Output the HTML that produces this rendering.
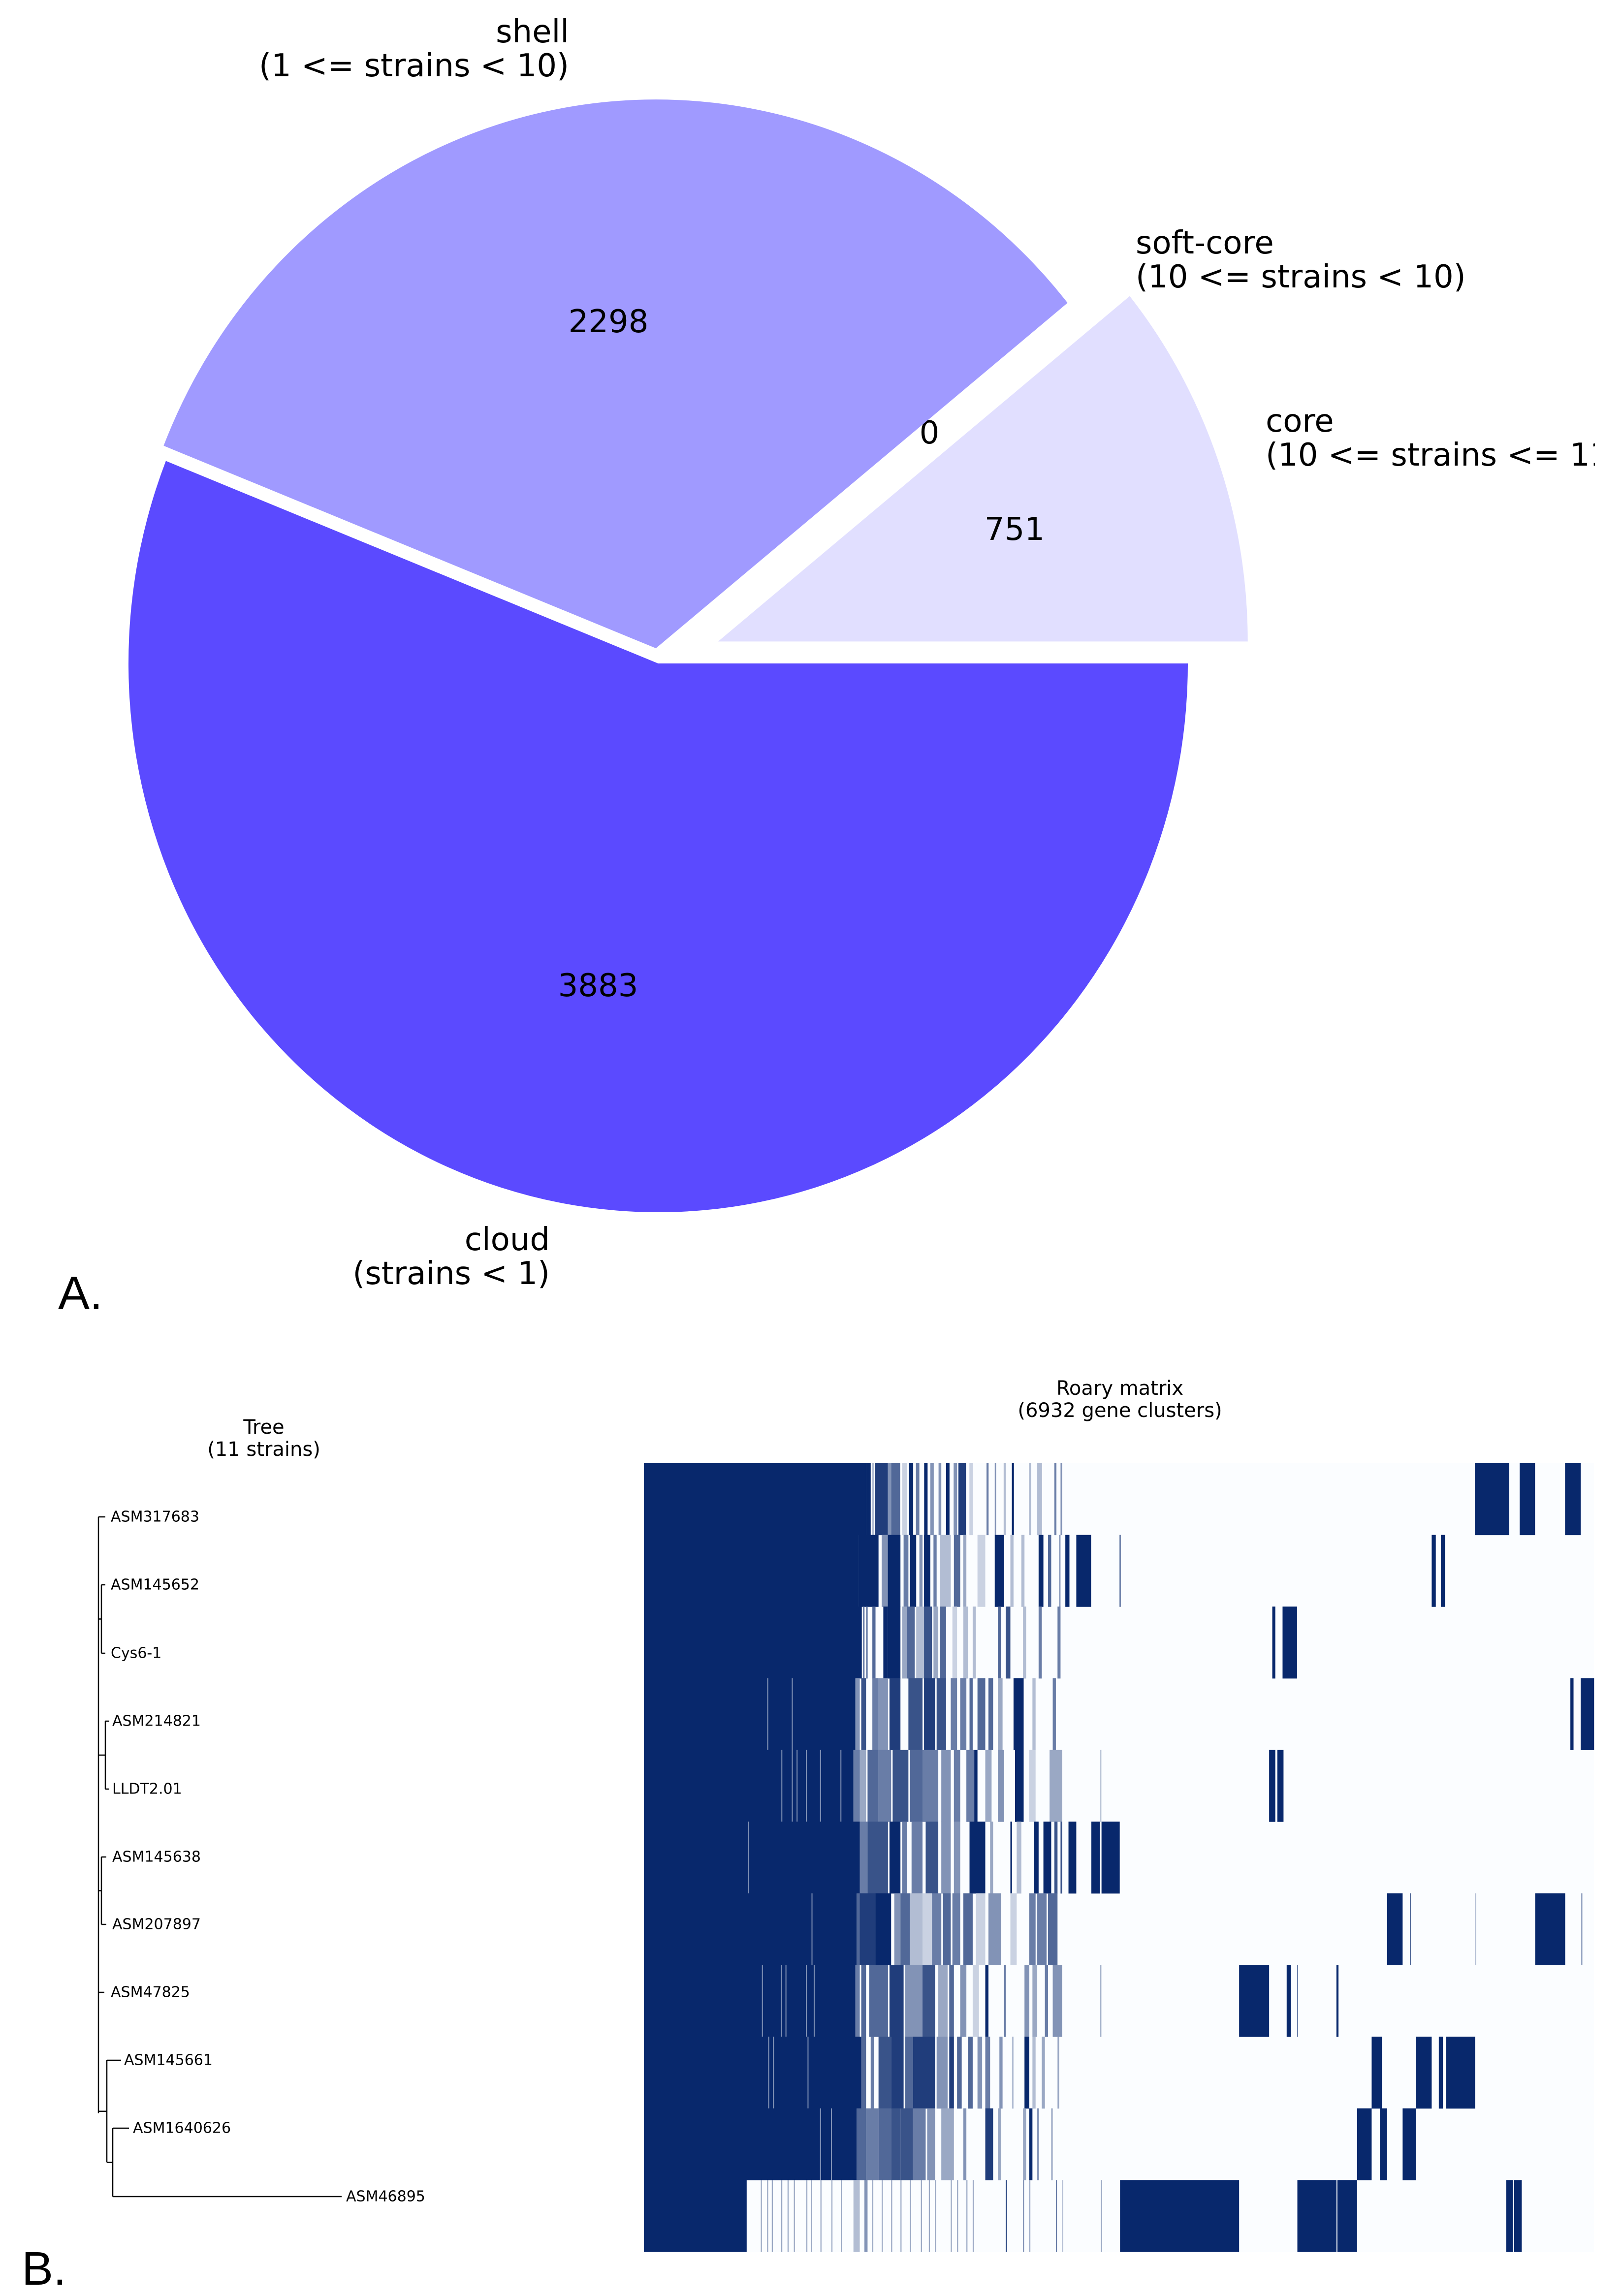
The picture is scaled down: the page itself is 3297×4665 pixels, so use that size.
<!DOCTYPE html>
<html><head><meta charset="utf-8"><title>Pangenome pie chart and Roary gene matrix</title>
<style>
html,body{margin:0;padding:0;background:#fff;}
svg{display:block;}
.lbl{font-family:"DejaVu Sans","Liberation Sans",sans-serif;font-size:64px;fill:#000;}
.small{font-family:"DejaVu Sans","Liberation Sans",sans-serif;font-size:30px;fill:#000;}
.title{font-family:"DejaVu Sans","Liberation Sans",sans-serif;font-size:40px;fill:#000;}
.panel{font-family:"Liberation Sans",sans-serif;font-size:96px;fill:#000;}
</style></head>
<body>
<svg id="fig" width="3297" height="4665" viewBox="0 0 3297 4665" xmlns="http://www.w3.org/2000/svg">
<defs><clipPath id="clipA"><rect x="0" y="0" width="3240" height="2700"/></clipPath></defs>
<rect width="3297" height="4665" fill="#ffffff"/>
<g id="pie" clip-path="url(#clipA)"></g>
<text class="panel" x="118" y="2660">A.</text>
<text class="panel" x="44" y="4642">B.</text>
<g id="tree">
<text class="title" x="536" y="2900" text-anchor="middle" dominant-baseline="central">Tree</text>
<text class="title" x="536" y="2945" text-anchor="middle" dominant-baseline="central">(11 strains)</text>
</g>
<g id="matrix">
<text class="title" x="2275" y="2821" text-anchor="middle" dominant-baseline="central">Roary matrix</text>
<text class="title" x="2275" y="2866" text-anchor="middle" dominant-baseline="central">(6932 gene clusters)</text>
</g>
</svg>
<script>
// ---------- PIE DATA ----------
const pieCategories = ["core","soft-core","shell","cloud"];
const pieValues = [751, 0, 2298, 3883];
const pieLabelLine1 = ["core","soft-core","shell","cloud"];
const pieLabelLine2 = ["(10 <= strains <= 11)","(10 <= strains < 10)","(1 <= strains < 10)","(strains < 1)"];
const pieExplode = [0.12, 0.12, 0.028, 0];
const pieColors = ["#e1dfff","#c8c4ff","#a09aff","#5b4aff"];

// ---------- MATRIX DATA ----------
const strains = ["ASM317683","ASM145652","Cys6-1","ASM214821","LLDT2.01","ASM145638","ASM207897","ASM47825","ASM145661","ASM1640626","ASM46895"];
const totalClusters = 6932;
const coreEnd = [1620,1568,1590,1543,1529,1575,1552,1543,1586,1552,750];
const rowSegments = [
 [[1620,1655,1],[1665,1680,.3],[1685,1780,.9],[1780,1805,.5],[1805,1870,.7],[1885,1920,.2],[1935,1965,1],[1985,2010,.6],[2045,2070,1],[2090,2115,.5],[2150,2170,.5],[2205,2230,1],[2260,2285,.5],[2295,2350,.9],[2375,2400,.2],[2500,2515,.6],[2560,2570,.5],[2625,2640,.3],[2685,2700,1],[2810,2825,.3],[2870,2905,.3],[2995,3010,.6],[3040,3052,.5],[6063,6314,1],[6390,6502,1],[6721,6835,1]],
 [[1568,1712,1],[1735,1780,.5],[1780,1872,1],[1895,1930,.6],[1941,1987,1],[2010,2033,.5],[2044,2090,1],[2113,2136,.6],[2159,2239,.3],[2262,2308,.7],[2330,2353,.4],[2434,2491,.2],[2560,2628,1],[2674,2697,.3],[2754,2777,.3],[2880,2915,1],[2949,2972,.7],[3030,3040,.5],[3075,3105,1],[3155,3263,1],[3470,3480,.6],[5748,5778,1],[5815,5845,1]],
 [[1598,1610,.6],[1621,1633,.6],[1667,1690,.7],[1747,1781,1],[1781,1872,1],[1884,1918,.4],[1918,1976,.7],[1987,2044,.3],[2044,2102,.8],[2113,2148,.4],[2159,2205,.7],[2251,2285,.2],[2331,2365,.3],[2399,2422,.3],[2583,2606,.7],[2640,2674,.8],[2766,2789,.3],[2880,2903,.6],[3018,3040,.6],[4585,4607,1],[4660,4766,1]],
 [[900,906,.5],[1079,1085,.5],[1543,1575,.5],[1586,1621,.8],[1667,1712,.6],[1712,1781,.5],[1792,1872,.9],[1930,2033,.8],[2044,2125,.9],[2136,2205,.8],[2239,2285,.6],[2308,2353,.6],[2376,2399,.7],[2434,2491,.7],[2514,2548,.7],[2583,2617,.4],[2697,2771,1],[2835,2858,.3],[2983,3006,.6],[6760,6783,1],[6835,6933,1]],
 [[1003,1009,.5],[1079,1085,.5],[1114,1120,.5],[1182,1188,.5],[1285,1291,.5],[1434,1440,.5],[1529,1575,.6],[1575,1621,.4],[1632,1712,.7],[1712,1804,.6],[1815,1930,.8],[1941,2033,.7],[2033,2148,.6],[2170,2239,.5],[2262,2308,.6],[2353,2422,.6],[2411,2434,1],[2491,2537,.4],[2583,2628,.5],[2708,2771,1],[2812,2858,.2],[2960,3052,.4],[3330,3338,.3],[4562,4607,1],[4622,4667,1]],
 [[758,764,.5],[1575,1632,.6],[1632,1781,.8],[1792,1872,1],[1884,1918,.6],[1953,2033,.6],[2056,2148,.8],[2170,2239,.5],[2262,2308,.5],[2376,2491,1],[2526,2548,.4],[2674,2686,1],[2720,2754,.3],[2846,2880,1],[2915,2972,1],[2995,3018,.8],[3040,3052,.8],[3098,3155,1],[3265,3327,1],[3339,3472,1]],
 [[1223,1229,.5],[1552,1575,.7],[1575,1690,.9],[1690,1804,1],[1827,1872,.5],[1872,1941,.7],[1941,2033,.3],[2033,2102,.2],[2102,2170,.6],[2182,2239,.7],[2251,2308,.6],[2331,2399,.7],[2422,2491,.2],[2514,2606,.5],[2674,2720,.2],[2812,2858,.6],[2870,2938,.6],[2949,3018,.7],[5423,5536,1],[5589,5596,.7],[6065,6070,.3],[6503,6722,1],[6840,6845,.6]],
 [[861,867,.5],[999,1005,.5],[1033,1039,.5],[1182,1188,.5],[1239,1245,.5],[1543,1575,.6],[1586,1621,.7],[1644,1781,.7],[1792,1895,.9],[1907,2033,.5],[2033,2125,.8],[2148,2216,.4],[2228,2262,.7],[2308,2353,.5],[2399,2445,.2],[2491,2514,1],[2628,2640,.6],[2777,2812,.5],[2835,2870,.4],[2926,2949,.6],[2983,3052,.5],[3330,3338,.4],[4343,4562,1],[4690,4720,1],[4766,4772,.6],[5053,5068,1]],
 [[907,913,.5],[942,948,.5],[1194,1200,.5],[1586,1621,.7],[1655,1678,.6],[1712,1804,.8],[1804,1895,.9],[1907,1964,.7],[1964,2125,.9],[2136,2216,.5],[2228,2262,.9],[2285,2319,.7],[2365,2399,.7],[2434,2468,.5],[2491,2526,.6],[2594,2617,.5],[2686,2697,.3],[2777,2812,1],[2835,2858,.3],[2903,2926,.4],[3018,3030,.4],[5310,5385,1],[5635,5748,1],[5800,5830,1],[5853,6065,1]],
 [[1285,1291,.5],[1365,1371,.5],[1552,1621,.7],[1621,1712,.6],[1712,1804,.7],[1804,1872,.8],[1872,1964,.8],[1964,2056,.6],[2067,2125,.5],[2170,2262,.4],[2331,2353,.5],[2491,2548,.9],[2583,2606,.4],[2766,2789,.4],[2812,2835,1],[2870,2882,.5],[2972,2983,.4],[5204,5310,1],[5370,5423,1],[5536,5635,1]],
 [[853,861,.4],[899,907,.4],[933,941,.4],[1002,1010,.4],[1048,1056,.4],[1094,1102,.4],[1185,1193,.4],[1220,1228,.4],[1288,1296,.4],[1368,1376,.4],[1437,1445,.4],[1529,1575,.3],[1609,1632,.5],[1666,1674,.4],[1735,1743,.4],[1804,1812,.4],[1872,1880,.4],[1941,1949,.4],[2021,2029,.4],[2079,2087,.4],[2124,2132,.4],[2239,2247,.4],[2285,2293,.4],[2353,2361,.4],[2399,2407,.4],[2640,2648,.9],[2766,2774,.5],[2812,2820,.4],[3006,3014,.6],[3052,3060,.3],[3334,3342,.4],[3474,4343,1],[4768,5053,1],[5060,5204,1],[6292,6340,1],[6350,6405,1]]
];

// ---------- TREE DATA ----------
const leafY = [3082,3220,3359,3497,3635,3773,3910,4048,4186,4324,4463];
const leafLabelX = [225,225,225,228,228,228,228,225,252,270,703];

const NS="http://www.w3.org/2000/svg";
function mk(tag, attrs, parent){const e=document.createElementNS(NS,tag);for(const k in attrs)e.setAttribute(k,attrs[k]);parent.appendChild(e);return e;}

// ---------- DRAW PIE ----------
(function(){
 const g=document.getElementById('pie');
 const cx=1337, cy=1348, rx=1076, ry=1115;
 const total=pieValues.reduce((a,b)=>a+b,0);
 const px=(ox,a,fr)=>ox+rx*fr*Math.cos(a);
 const py=(oy,a,fr)=>oy-ry*fr*Math.sin(a);
 let start=0;
 const labelPos=[
  {x:2571,y:856,anchor:"start"},
  {x:2307,y:494,anchor:"start"},
  {x:1156,y:65,anchor:"end"},
  {x:1117,y:2519,anchor:"end"}];
 const valuePos=[[2061,1076],[1888,880],[1236,654],[1215,2003]];
 for(let i=0;i<pieValues.length;i++){
  const sweep=pieValues[i]/total*2*Math.PI;
  const a0=start, a1=start+sweep, mid=(a0+a1)/2;
  const ox=cx+rx*pieExplode[i]*Math.cos(mid), oy=cy-ry*pieExplode[i]*Math.sin(mid);
  if(sweep>0){
   const large=sweep>Math.PI?1:0;
   const d=`M${ox},${oy} L${px(ox,a0,1)},${py(oy,a0,1)} A${rx},${ry} 0 ${large} 0 ${px(ox,a1,1)},${py(oy,a1,1)} Z`;
   const p=mk('path',{d:d,fill:pieColors[i]},g);
   
   
  }
  const vt=mk('text',{x:valuePos[i][0],y:valuePos[i][1],'text-anchor':'middle','dominant-baseline':'central',class:'lbl'},g);
  vt.textContent=String(pieValues[i]);
  
  
  const lp=labelPos[i];
  const t1=mk('text',{x:lp.x,y:lp.y,'text-anchor':lp.anchor,'dominant-baseline':'central',class:'lbl'},g);
  t1.textContent=pieLabelLine1[i];
  
  
  const t2=mk('text',{x:lp.x,y:lp.y+69,'text-anchor':lp.anchor,'dominant-baseline':'central',class:'lbl'},g);
  t2.textContent=pieLabelLine2[i];
  
  
  start=a1;
 }
})();

// ---------- DRAW MATRIX ----------
(function(){
 const g=document.getElementById('matrix');
 const x0=1308, x1=3238, y0=2973, y1=4575;
 const rowH=(y1-y0)/strains.length;
 const xs=c=>x0+(c/totalClusters)*(x1-x0);
 const dark=[8,40,108], light=[251,253,255];
 const col=a=>`rgb(${dark.map((d,k)=>Math.round(light[k]+(d-light[k])*a)).join(',')})`;
 const bg=mk('rect',{x:x0,y:y0,width:x1-x0,height:y1-y0,fill:col(0)},g);
 
 
 for(let r=0;r<strains.length;r++){
  const ry=y0+r*rowH;
  const core=mk('rect',{x:xs(0),y:ry,width:xs(coreEnd[r])-xs(0),height:rowH+0.5,fill:col(1)},g);
  
  
  for(const s of rowSegments[r]){
   const w=Math.max(2,xs(s[1])-xs(s[0]));
   const seg=mk('rect',{x:xs(s[0]),y:ry,width:w,height:rowH+0.5,fill:col(s[2])},g);
   
   
  }
 }
})();

// ---------- DRAW TREE ----------
(function(){
 const g=document.getElementById('tree');
 const L=(xa,ya,xb,yb)=>{const l=mk('line',{x1:xa,y1:ya,x2:xb,y2:yb,stroke:'#000','stroke-width':2.5},g);
  
  };
 const Y=leafY;
 L(200,Y[0],200,(Y[9]+Y[10])/2-100);
 L(200,Y[0],214,Y[0]);
 L(200,(Y[1]+Y[2])/2,206,(Y[1]+Y[2])/2); L(206,Y[1],206,Y[2]); L(206,Y[1],214,Y[1]); L(206,Y[2],214,Y[2]);
 L(200,(Y[3]+Y[4])/2,214,(Y[3]+Y[4])/2); L(214,Y[3],214,Y[4]); L(214,Y[3],222,Y[3]); L(214,Y[4],222,Y[4]);
 L(200,(Y[5]+Y[6])/2,206,(Y[5]+Y[6])/2); L(206,Y[5],206,Y[6]); L(206,Y[5],216,Y[5]); L(206,Y[6],216,Y[6]);
 L(200,Y[7],212,Y[7]);
 const yLow=(Y[8]+(Y[9]+Y[10])/2)/2;
 L(200,yLow,217,yLow); L(217,Y[8],217,(Y[9]+Y[10])/2); L(217,Y[8],246,Y[8]);
 L(217,(Y[9]+Y[10])/2,229,(Y[9]+Y[10])/2); L(229,Y[9],229,Y[10]); L(229,Y[9],262,Y[9]); L(229,Y[10],694,Y[10]);
 for(let i=0;i<strains.length;i++){
  const t=mk('text',{x:leafLabelX[i],y:Y[i],'dominant-baseline':'central',class:'small'},g);
  t.textContent=strains[i];
  
  
 }
})();
</script>
</body></html>
